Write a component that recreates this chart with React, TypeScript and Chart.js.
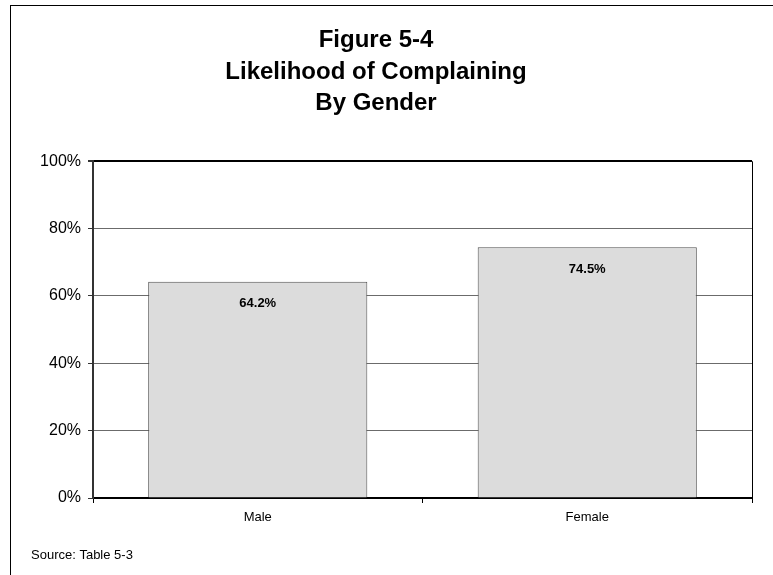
import React, { useEffect, useRef } from "react";
import { Chart, registerables } from "chart.js";

Chart.register(...registerables);

const categories = ["Male", "Female"];
const values = [64.2, 74.5];
const yTicks = [0, 20, 40, 60, 80, 100];
const titleLines = ["Figure 5-4", "Likelihood of Complaining", "By Gender"];
const sourceNote = "Source: Table 5-3";

const FONT = "Arial, 'Liberation Sans', Helvetica, sans-serif";

// Outer frame and source note
const framePlugin = {
  id: "frame",
  beforeDraw(chart: any) {
    const ctx = chart.ctx;
    ctx.save();
    ctx.fillStyle = "#ffffff";
    ctx.fillRect(0, 0, chart.width, chart.height);
    ctx.strokeStyle = "#000000";
    ctx.lineWidth = 1;
    ctx.strokeRect(10.5, 5.5, chart.width + 20, chart.height + 20);
    ctx.restore();
  },
  afterDraw(chart: any) {
    const ctx = chart.ctx;
    const { chartArea } = chart;
    ctx.save();
    // right edge of the plot box
    ctx.strokeStyle = "#000000";
    ctx.lineWidth = 1;
    ctx.beginPath();
    ctx.moveTo(Math.round(chartArea.right) + 0.5, chartArea.top);
    ctx.lineTo(Math.round(chartArea.right) + 0.5, chartArea.bottom);
    ctx.stroke();
    // source note
    ctx.fillStyle = "#000000";
    ctx.font = `13px ${FONT}`;
    ctx.textAlign = "left";
    ctx.textBaseline = "middle";
    ctx.fillText(sourceNote, 31, 555);
    ctx.restore();
  },
};

// Value labels inside the top of each bar
const valueLabelPlugin = {
  id: "valueLabels",
  afterDatasetsDraw(chart: any) {
    const ctx = chart.ctx;
    const meta = chart.getDatasetMeta(0);
    ctx.save();
    ctx.fillStyle = "#000000";
    ctx.font = `bold 13px ${FONT}`;
    ctx.textAlign = "center";
    ctx.textBaseline = "middle";
    meta.data.forEach((bar: any, i: number) => {
      ctx.fillText(values[i].toFixed(1) + "%", bar.x, bar.y + 22);
    });
    ctx.restore();
  },
};

export default function App() {
  const canvasRef = useRef<HTMLCanvasElement | null>(null);

  useEffect(() => {
    if (!canvasRef.current) return;
    const chart = new Chart(canvasRef.current, {
      type: "bar",
      data: {
        labels: categories,
        datasets: [
          {
            data: values,
            backgroundColor: "#dcdcdc",
            borderColor: "#505050",
            borderWidth: 1,
            barPercentage: 0.665,
            categoryPercentage: 1,
          },
        ],
      },
      options: {
        responsive: false,
        animation: false,
        devicePixelRatio: 1,
        layout: { padding: { left: 0, right: 21, top: 0, bottom: 0 } },
        plugins: {
          legend: { display: false },
          tooltip: { enabled: false },
          title: {
            display: true,
            text: titleLines,
            color: "#000000",
            font: { family: FONT, size: 24, weight: "bold", lineHeight: 1.31 },
            padding: { top: 25, bottom: 42 },
          },
        },
        scales: {
          x: {
            afterFit: (scale: any) => {
              scale.height = 77;
            },
            grid: {
              display: true,
              drawOnChartArea: false,
              drawTicks: true,
              tickLength: 5,
              color: "#000000",
              offset: true,
            },
            border: { display: true, color: "#000000", width: 2 },
            ticks: {
              color: "#000000",
              font: { family: FONT, size: 13 },
              padding: 7,
            },
          },
          y: {
            min: 0,
            max: 100,
            afterFit: (scale: any) => {
              scale.width = 93;
            },
            afterBuildTicks: (scale: any) => {
              scale.ticks = yTicks.map((v) => ({ value: v }));
            },
            grid: {
              color: (c: any) => (c.tick && c.tick.value === 100 ? "#000000" : "#6b6b6b"),
              lineWidth: (c: any) => (c.tick && c.tick.value === 100 ? 2 : 1),
              drawTicks: true,
              tickLength: 5,
              tickColor: "#333333",
            },
            border: { display: true, color: "#333333", width: 2 },
            ticks: {
              color: "#000000",
              font: { family: FONT, size: 16 },
              padding: 7,
              callback: (v: any) => `${v}%`,
            },
          },
        },
      },
      plugins: [framePlugin, valueLabelPlugin],
    });
    return () => chart.destroy();
  }, []);

  return (
    <div style={{ position: "fixed", left: 0, top: 0, width: 773, height: 575, background: "#fff" }}>
      <canvas ref={canvasRef} width={773} height={575} style={{ display: "block" }} />
    </div>
  );
}
